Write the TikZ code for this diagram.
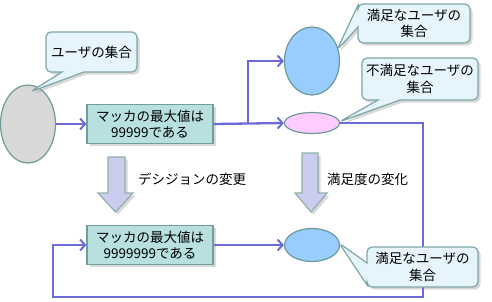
\documentclass[tikz,border=0pt]{standalone}
\usepackage{fontspec}
\newfontfamily\jp{Noto Sans CJK JP}
\usetikzlibrary{shapes.geometric,shapes.callouts,shadows,calc,arrows.meta}
\definecolor{conncol}{HTML}{6B6BD8}
\definecolor{boxfill}{HTML}{B8E0E1}
\definecolor{boxline}{HTML}{6E9E9E}
\definecolor{callfill}{HTML}{E6F4FC}
\definecolor{callline}{HTML}{7FA6A6}
\definecolor{elline}{HTML}{6E9A9A}
\definecolor{grayfill}{HTML}{D8D8D8}
\definecolor{bluefill}{HTML}{99CCFF}
\definecolor{pinkfill}{HTML}{FFCCFF}
\definecolor{barrowfill}{HTML}{CCCCEE}
\definecolor{barrowline}{HTML}{8FB0A8}
\begin{document}
\begin{tikzpicture}[x=1pt,y=-1pt,
  every node/.style={font=\jp\fontsize{13.5}{16.5}\selectfont},
  shad/.style={drop shadow={opacity=0.3,shadow xshift=2.5pt,shadow yshift=-2.5pt}},
  conn/.style={draw=conncol,line width=2.3pt,-{Straight Barb[length=5pt,width=11pt,line width=2pt]}},
  decbox/.style={draw=boxline,line width=1.2pt,fill=boxfill,minimum width=126pt,minimum height=39pt,align=center,inner sep=0pt,shad},
  blob/.style={ellipse,draw=elline,line width=1.2pt,inner sep=0pt},
  bubble/.style={rectangle callout,draw=callline,line width=1.2pt,fill=callfill,rounded corners=5pt,align=center,inner sep=0pt,callout pointer width=22pt,shad},
  barrow/.style={draw=barrowline,line width=1.2pt,fill=barrowfill,shad}
]
\useasboundingbox (0,0) rectangle (492,301);

% ellipses
\node[blob,fill=grayfill,minimum width=55pt,minimum height=78pt] (users) at (28,124) {};
\node[blob,fill=bluefill,minimum width=55pt,minimum height=68pt] (sat) at (312,61) {};
\node[blob,fill=pinkfill,minimum width=55pt,minimum height=21pt] (unsat) at (312,123) {};
\node[blob,fill=bluefill,minimum width=55pt,minimum height=33pt] (sat2) at (312,245) {};

% decision boxes
\node[decbox] (dec1) at (150,124) {マッカの最大値は\\99999である};
\node[decbox] (dec2) at (150,245) {マッカの最大値は\\9999999である};

% connectors
\coordinate (j1) at (248,124);
\coordinate (r1) at (423,297);
\coordinate (l1) at (53,297);
\draw[conn] (users.east) -- (dec1.west);
\draw[conn] (dec1.east) -- (unsat.west);
\draw[conn] (j1) |- (sat.west);
\draw[conn] (unsat.east) -| (r1) -- (l1) |- (dec2.west);
\draw[conn] (dec2.east) -- (sat2.west);

% callouts
\node[bubble,minimum width=91pt,minimum height=40pt,
  callout absolute pointer={($(users.center)+(2,-32)$)}] (cUsers) at (91.5,52) {ユーザの集合};
\node[bubble,minimum width=112pt,minimum height=39pt,
  callout absolute pointer={($(sat.center)+(25,-11)$)}] (cSat) at (414,23.5) {満足なユーザの\\集合};
\node[bubble,minimum width=116pt,minimum height=42pt,
  callout absolute pointer={($(unsat.center)+(27,-1)$)}] (cUnsat) at (420,79) {不満足なユーザの\\集合};
\node[bubble,minimum width=111pt,minimum height=40pt,
  callout absolute pointer={($(sat2.center)+(27,-2)$)}] (cSat2) at (422.5,267) {満足なユーザの\\集合};

% block arrows
\draw[barrow] (108,157) -- (125,157) -- (125,193) -- (133,193) -- (115.5,212) -- (98,193) -- (108,193) -- cycle;
\draw[barrow] (302,153) -- (318,153) -- (318,193) -- (327,193) -- (311,212) -- (295,193) -- (302,193) -- cycle;

% labels
\node[anchor=west,inner sep=0pt] (lab1) at (138,179) {デシジョンの変更};
\node[anchor=west,inner sep=0pt] (lab2) at (327,179) {満足度の変化};
\end{tikzpicture}
\end{document}
